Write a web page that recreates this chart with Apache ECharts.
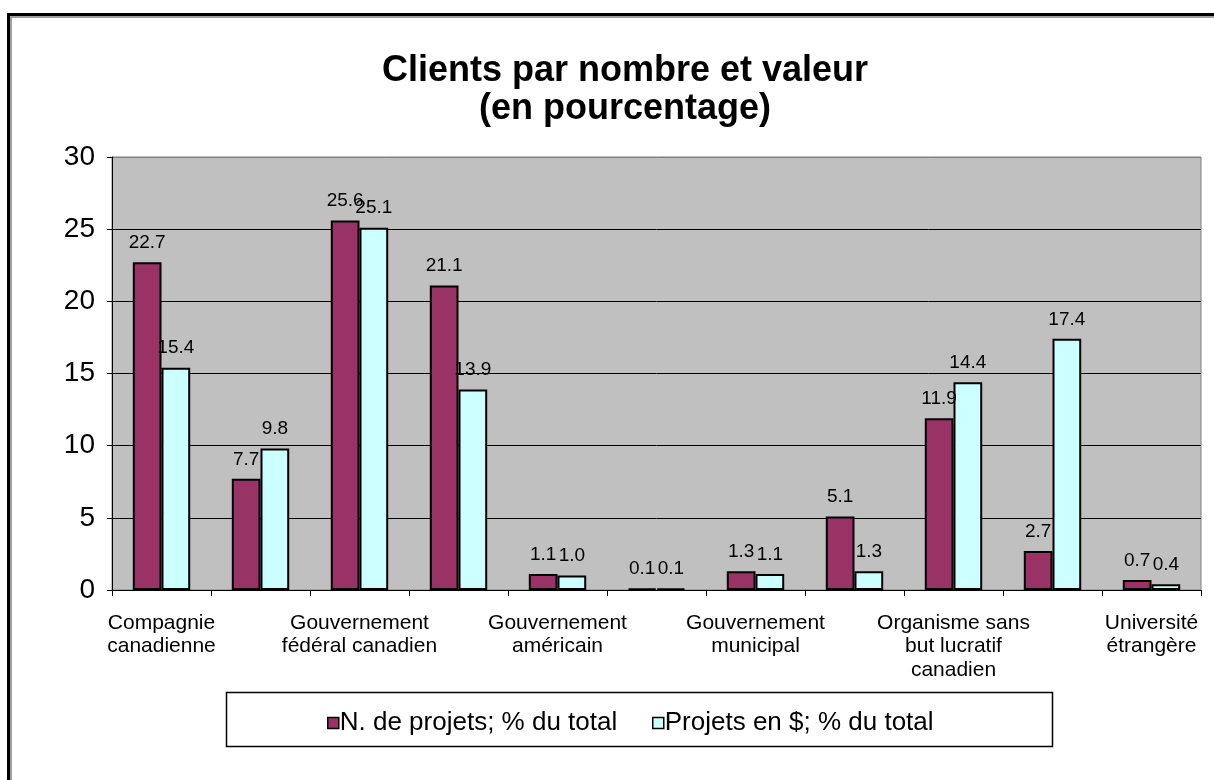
<!DOCTYPE html>
<html>
<head>
<meta charset="utf-8">
<script src="https://cdn.jsdelivr.net/npm/echarts@6/dist/echarts.min.js"></script>
<style>
  html, body { margin: 0; padding: 0; background: #fff; }
  #chart { width: 1214px; height: 780px; }
</style>
</head>
<body>
<div id="chart"></div>
<script>
// catégories (seules une sur deux sont étiquetées sur l'axe)
var categories = [
  'Compagnie\ncanadienne', '', 'Gouvernement\nfédéral canadien', '',
  'Gouvernement\naméricain', '', 'Gouvernement\nmunicipal', '',
  'Organisme sans\nbut lucratif\ncanadien', '', 'Université\nétrangère'
];
var nbProjets = [22.7, 7.7, 25.6, 21.1, 1.1, 0.1, 1.3, 5.1, 11.9, 2.7, 0.7];
var projetsDollars = [15.4, 9.8, 25.1, 13.9, 1.0, 0.1, 1.1, 1.3, 14.4, 17.4, 0.4];
var seriesNames = ['N. de projets; % du total', 'Projets en $; % du total'];
var yTicks = [0, 5, 10, 15, 20, 25, 30];

var font = 'Liberation Sans, Arial, sans-serif';

var chart = echarts.init(document.getElementById('chart'), null, { renderer: 'canvas' });

var labelOpt = {
  show: true,
  position: 'top',
  distance: 10,
  color: '#000',
  fontSize: 19,
  fontFamily: font,
  formatter: function (p) { return p.value.toFixed(1); }
};

// une légende par série pour placer chaque entrée comme dans l'original
function legendAt(name, x) {
  return {
    data: [name],
    left: x,
    top: 705,
    itemWidth: 11,
    itemHeight: 11,
    icon: 'rect',
    itemStyle: { borderColor: '#000', borderWidth: 1.5 },
    textStyle: { fontFamily: font, fontSize: 26, color: '#000', padding: [0, 0, 0, -4] }
  };
}

var option = {
  backgroundColor: '#fff',
  animation: false,
  title: {
    text: 'Clients par nombre et valeur\n(en pourcentage)',
    left: 620,
    top: 47,
    textAlign: 'center',
    textStyle: {
      fontFamily: font,
      fontSize: 36,
      fontWeight: 'bold',
      lineHeight: 38,
      color: '#000'
    }
  },
  legend: [legendAt(seriesNames[0], 322), legendAt(seriesNames[1], 647)],
  grid: {
    left: 112,
    right: 13,
    top: 157,
    bottom: 190,
    show: true,
    backgroundColor: '#c0c0c0',
    borderColor: '#808080',
    borderWidth: 1
  },
  xAxis: {
    type: 'category',
    data: categories,
    axisLine: { lineStyle: { color: '#000', width: 1 } },
    axisTick: { show: true, interval: 0, length: 6, lineStyle: { color: '#000' } },
    axisLabel: {
      interval: 0,
      margin: 21,
      color: '#000',
      fontSize: 21,
      lineHeight: 23.5,
      fontFamily: font
    }
  },
  yAxis: {
    type: 'value',
    min: yTicks[0],
    max: yTicks[yTicks.length - 1],
    interval: 5,
    axisLine: { show: true, lineStyle: { color: '#000' } },
    axisTick: { show: true, length: 5, lineStyle: { color: '#000' } },
    axisLabel: { margin: 17, color: '#000', fontSize: 28, fontFamily: font },
    splitLine: {
      show: true,
      lineStyle: { color: ['#000', '#000', '#000', '#000', '#000', '#000', '#808080'], width: 1 }
    }
  },
  series: [
    {
      name: seriesNames[0],
      type: 'bar',
      data: nbProjets,
      barGap: '0%',
      barCategoryGap: '42%',
      itemStyle: { color: '#993366', borderColor: '#000', borderWidth: 2 },
      label: labelOpt
    },
    {
      name: seriesNames[1],
      type: 'bar',
      data: projetsDollars,
      itemStyle: { color: '#ccffff', borderColor: '#000', borderWidth: 2 },
      label: labelOpt
    }
  ],
  graphic: [
    // cadre extérieur
    { type: 'rect', shape: { x: 8.5, y: 14.5, width: 1300, height: 1000 },
      style: { fill: null, stroke: '#000', lineWidth: 3 }, z: 10 },
    { type: 'rect', shape: { x: 11, y: 17, width: 1300, height: 1000 },
      style: { fill: null, stroke: '#808080', lineWidth: 1.5 }, z: 10 },
    // boîte de la légende
    { type: 'rect', shape: { x: 226.5, y: 692.5, width: 826, height: 54 },
      style: { fill: '#fff', stroke: '#000', lineWidth: 1.5 }, z: 0 }
  ]
};

chart.setOption(option);
</script>
</body>
</html>
